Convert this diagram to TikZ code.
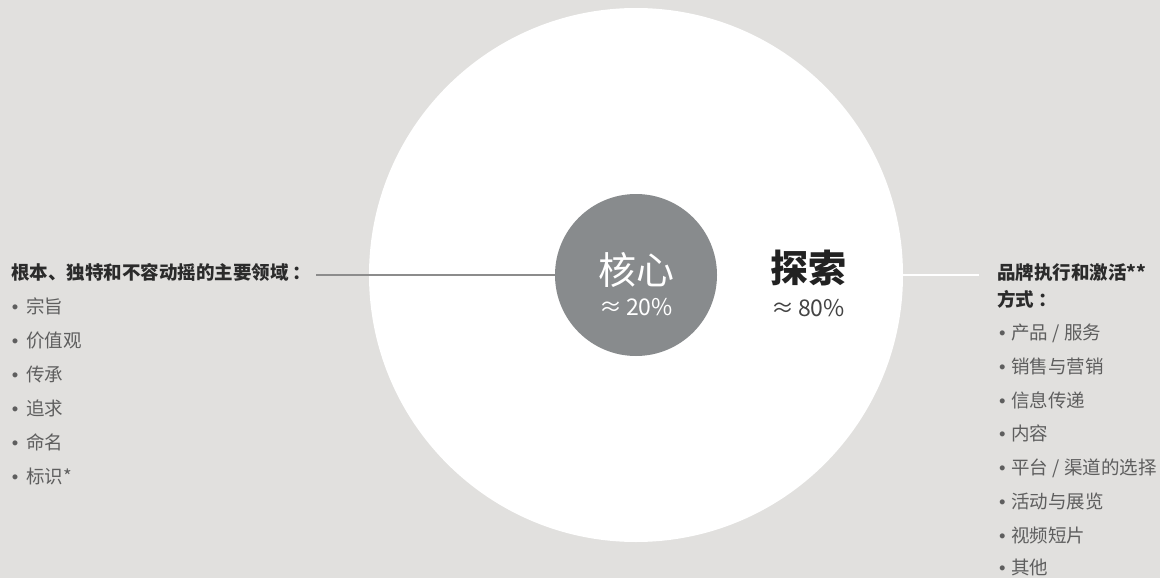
\documentclass[tikz,border=0pt]{standalone}
\usepackage{fontspec}
\setmainfont{Noto Sans CJK SC}
\newfontfamily\latinfont{Liberation Sans}
\newcommand{\bul}{{\latinfont •}}
\definecolor{bg}{HTML}{E1E0DE}
\definecolor{coregray}{HTML}{888B8D}
\definecolor{headc}{HTML}{2B2B2B}
\definecolor{itemc}{HTML}{5E5E5E}
\definecolor{darkc}{HTML}{222222}
\definecolor{pctc}{HTML}{444444}
\definecolor{linegray}{HTML}{8C8C8C}
\begin{document}
\begin{tikzpicture}[x=1pt,y=-1pt,
  headtxt/.style={anchor=base west, inner sep=0pt, text=headc, font=\fontsize{18.5}{20}\selectfont\bfseries},
  itemtxt/.style={anchor=base west, inner sep=0pt, text=itemc, font=\fontsize{18.5}{20}\selectfont},
  bigtxt/.style={inner sep=0pt, font=\fontsize{38}{40}\selectfont},
  pcttxt/.style={inner sep=0pt, font=\fontsize{23}{25}\selectfont}]
\useasboundingbox (0,0) rectangle (1160,578);
\fill[bg] (0,0) rectangle (1160,578);
\node[circle, fill=white, minimum size=534pt, inner sep=0pt] (big) at (636,275) {};
\node[circle, fill=coregray, minimum size=162pt, inner sep=0pt] (core) at (636,275) {};
% centre texts
\node[bigtxt, anchor=base, text=white] (hx) at (636,284) {核心};
\node[pcttxt, anchor=base, text=white] (p20) at (636,315) {≈\,20\%};
\node[bigtxt, anchor=base west, text=darkc, font=\fontsize{38}{40}\selectfont\bfseries] (ts) at (770,282) {探索};
\node[pcttxt, anchor=base west, text=pctc] (p80) at (771,316) {≈\,80\%};
% left list
\node[headtxt] (lh) at (11,279) {根本、独特和不容动摇的主要领域\hspace{4pt}：};
\node[itemtxt] (l1) at (11.8,313) {\bul\hspace{8pt}宗旨};
\node[itemtxt] (l2) at (11.8,347) {\bul\hspace{8pt}价值观};
\node[itemtxt] (l3) at (11.8,381) {\bul\hspace{8pt}传承};
\node[itemtxt] (l4) at (11.8,415) {\bul\hspace{8pt}追求};
\node[itemtxt] (l5) at (11.8,449) {\bul\hspace{8pt}命名};
\node[itemtxt] (l6) at (11.8,483) {\bul\hspace{8pt}标识*};
% right list
\node[headtxt] (rh1) at (997,279) {品牌执行和激活**};
\node[headtxt] (rh2) at (997,306) {方式\hspace{4pt}：};
\node[itemtxt] (r1) at (998.8,339.5) {\bul\hspace{6pt}产品 / 服务};
\node[itemtxt] (r2) at (998.8,373.3) {\bul\hspace{6pt}销售与营销};
\node[itemtxt] (r3) at (998.8,407.1) {\bul\hspace{6pt}信息传递};
\node[itemtxt] (r4) at (998.8,440.9) {\bul\hspace{6pt}内容};
\node[itemtxt] (r5) at (998.8,474.7) {\bul\hspace{6pt}平台 / 渠道的选择};
\node[itemtxt] (r6) at (998.8,508.5) {\bul\hspace{6pt}活动与展览};
\node[itemtxt] (r7) at (998.8,542.3) {\bul\hspace{6pt}视频短片};
\node[itemtxt] (r8) at (998.8,574.8) {\bul\hspace{6pt}其他};
% connectors
\coordinate (ls) at (316,275);
\draw[linegray, line width=1.2pt] (ls) -- (core.west);
\coordinate (re) at (979,275);
\draw[white, line width=1.6pt] (big.east) -- (re);
\end{tikzpicture}
\end{document}
